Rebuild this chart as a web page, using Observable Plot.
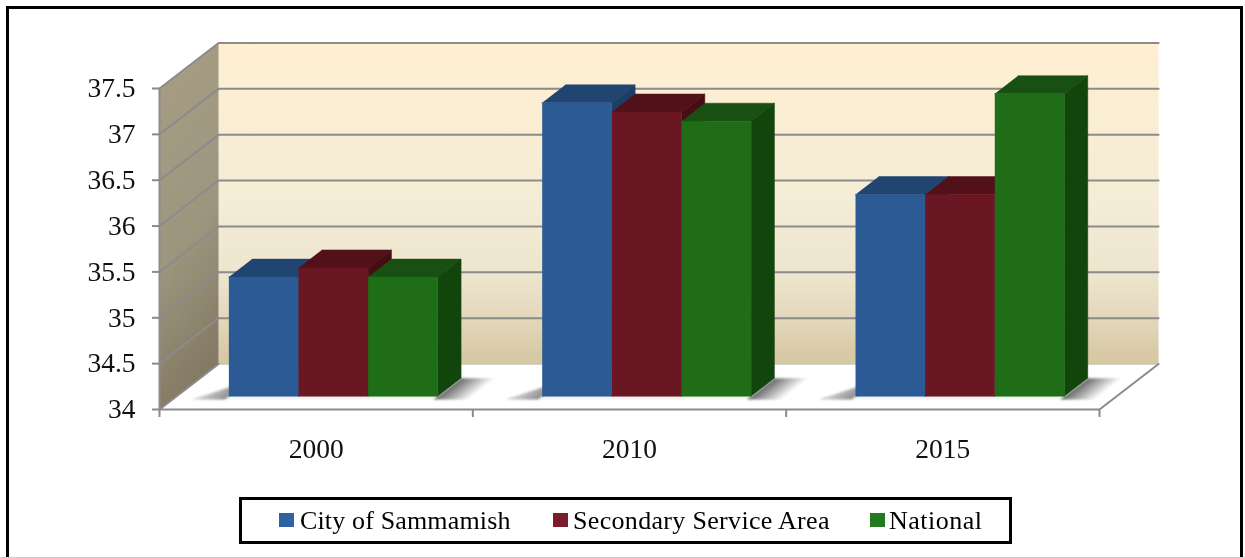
<!DOCTYPE html>
<html><head><meta charset="utf-8">
<style>
html,body{margin:0;padding:0;background:#fff;}
#page{position:relative;width:1245px;height:558px;overflow:hidden;font-family:"Liberation Serif",serif;color:#000;}
#frame{position:absolute;left:6px;top:6px;width:1237px;height:600px;border:3.5px solid #000;box-sizing:border-box;}
#foot{position:absolute;left:0;top:556.5px;width:1245px;height:1.5px;background:#ccc;}
#chart{position:absolute;left:0;top:0;filter:blur(0.45px);}
#legend{position:absolute;left:239px;top:497px;width:773px;height:47px;border:3px solid #000;box-sizing:border-box;filter:blur(0.45px);background:#fff;}
#legend i{position:absolute;top:13px;width:15px;height:14px;display:block;}
#legend span{position:absolute;top:6px;font-size:26px;line-height:30px;white-space:nowrap;}
</style>
<script src="https://cdn.jsdelivr.net/npm/d3@7"></script>
<script src="https://cdn.jsdelivr.net/npm/@observablehq/plot@0.6"></script>
</head><body>
<div id="page"><div id="frame"></div><div id="foot"></div><div id="chart"></div><div id="legend"></div></div>
<script>
const categories = ["2000", "2010", "2015"];
const seriesNames = ["City of Sammamish", "Secondary Service Area", "National"];
const citySammamish = [35.3, 37.2, 36.2];
const secondaryArea = [35.4, 37.1, 36.2];
const national = [35.3, 37.0, 37.3];
const yTicks = [34, 34.5, 35, 35.5, 36, 36.5, 37, 37.5];

const seriesValues = [citySammamish, secondaryArea, national];
const frontColors = ["#2B5A94", "#6B1723", "#1F6D17"];
const topColors = ["#1F4570", "#521019", "#175012"];
const sideColors = ["#1C3F66", "#470D15", "#12450C"];
const legendColors = ["#2F62A3", "#7B1C2C", "#237A1E"];

// oblique projection: depth z (0 front, 1 back) shifts a point in data units
const depthX = 0.1885, depthY = 0.496;
const P = (x, v, z) => ({x: x + z * depthX, y: v + z * depthY});
const Y0 = 34, Y1 = 37.5, X1 = categories.length;
const barZ0 = 0.29, barZ1 = 0.685, barW = 1 / 4.5, gap = 0.1667;

const face = (pts, fill, extra = {}) => Plot.line(pts, {x: "x", y: "y", fill, stroke: "none", ...extra});
const edge = (pts, w = 2) => Plot.line(pts, {x: "x", y: "y", stroke: "#8B8B8B", strokeWidth: w});
const soft = {imageFilter: "blur(1.2px)"};

const faces = [], shadows = [];
categories.forEach((c, i) => {
  const a = i + gap, b = i + 1 - gap;
  shadows.push(face([P(a - 0.1, Y0, 0.22), P(b + 0.1, Y0, 0.22), P(b + 0.1, Y0, barZ0), P(a - 0.1, Y0, barZ0)], "#F3F3F3"));
  shadows.push(face([P(a, Y0, 0.64), P(a, Y0, 0.22), P(a - 0.105, Y0, 0.22)], "url(#shL)", soft));
  shadows.push(face([P(b, Y0, barZ1), P(b + 0.11, Y0, barZ1), P(b + 0.11, Y0, 0.22), P(b, Y0, 0.22)], "url(#shR)", soft));
  seriesValues.forEach((vals, s) => {
    const v = vals[i], l = a + s * barW, r = l + barW;
    const add = (id, pts, color) => pts.forEach(p => faces.push({...p, id: `${c}-${s}-${id}`, color}));
    add("top", [P(l, v, barZ0), P(r, v, barZ0), P(r, v, barZ1), P(l, v, barZ1)], topColors[s]);
    add("side", [P(r, Y0, barZ0), P(r, v, barZ0), P(r, v, barZ1), P(r, Y0, barZ1)], sideColors[s]);
    add("front", [P(l, Y0, barZ0), P(r, Y0, barZ0), P(r, v, barZ0), P(l, v, barZ0)], frontColors[s]);
  });
});

const defs = () => d3.create("svg:defs").html(`
  <linearGradient id="wall" x1="0" y1="0" x2="0" y2="1">
    <stop offset="0" stop-color="#FFEFD1"/><stop offset="0.5" stop-color="#F4ECD6"/>
    <stop offset="0.72" stop-color="#EEE5CE"/><stop offset="0.88" stop-color="#E1D5B8"/>
    <stop offset="0.97" stop-color="#D8C9A5"/><stop offset="1" stop-color="#D7C8A4"/>
  </linearGradient>
  <linearGradient id="side" x1="0" y1="0" x2="0.2" y2="1">
    <stop offset="0" stop-color="#A99D85"/><stop offset="0.6" stop-color="#9C967F"/>
    <stop offset="1" stop-color="#857A63"/>
  </linearGradient>
  <linearGradient id="shR" x1="0.218" y1="0.5" x2="0.694" y2="0.708">
    <stop offset="0" stop-color="#666"/><stop offset="1" stop-color="#fff"/>
  </linearGradient>
  <linearGradient id="shL" x1="1" y1="0.7" x2="0.1" y2="0.3">
    <stop offset="0" stop-color="#5F5F5F"/><stop offset="1" stop-color="#fff"/>
  </linearGradient>`).node();

const chart = Plot.plot({
  width: 1245, height: 558,
  marginLeft: 159, marginRight: 146, marginTop: 88, marginBottom: 149,
  x: {domain: [0, X1]},
  y: {domain: [Y0, Y1]},
  color: {type: "identity"},
  style: {fontFamily: '"Liberation Serif", serif', fontSize: "27.5px", background: "transparent", color: "#111", overflow: "visible"},
  marks: [
    defs,
    face([P(0, Y0, 1), P(X1, Y0, 1), P(X1, Y1 , 1), P(0, Y1, 1)], "url(#wall)"),
    face([P(0, Y0, 0), P(0, Y0, 1), P(0, Y1, 1), P(0, Y1, 0)], "url(#side)"),
    ...yTicks.filter(t => t > Y0).map(t => edge([P(0, t, 0), P(0, t, 1), P(X1, t, 1)])),
    edge([P(0, Y0, 0), P(0, Y1, 0)]),
    Plot.line([P(0, Y0, 1), P(X1, Y0, 1)], {x: "x", y: "y", stroke: "#C9C4B4", strokeWidth: 1.5}),
    edge([P(0, Y0, 1), P(0, Y0, 0), P(X1, Y0, 0), P(X1, Y0, 1)]),
    ...shadows,
    Plot.line(faces, {x: "x", y: "y", z: "id", fill: "color", stroke: "color", strokeWidth: 0.5}),
    Plot.axisY({ticks: yTicks, tickFormat: d => String(d), tickSize: 7, tickPadding: 17, stroke: "#8B8B8B", strokeWidth: 2, label: null, fontSize: 27.5}),
    Plot.axisX({ticks: d3.range(X1 + 1), tickFormat: () => "", tickSize: 8, stroke: "#8B8B8B", strokeWidth: 2, label: null}),
    Plot.axisX({ticks: categories.map((_, i) => i + 0.5), tickFormat: d => categories[d - 0.5], tickSize: 0, tickPadding: 29, label: null, fontSize: 27.5})
  ]
});
document.getElementById("chart").appendChild(chart);

const legend = document.getElementById("legend");
const swatchLeft = [36.5, 310.5, 627.5], textLeft = [58, 331, 647], spacing = ["0.15px", "0.32px", "0.5px"];
seriesNames.forEach((n, i) => {
  const sw = document.createElement("i");
  sw.style.left = swatchLeft[i] + "px"; sw.style.background = legendColors[i];
  const t = document.createElement("span");
  t.textContent = n; t.style.left = textLeft[i] + "px"; t.style.letterSpacing = spacing[i];
  legend.append(sw, t);
});
</script>
</body></html>
